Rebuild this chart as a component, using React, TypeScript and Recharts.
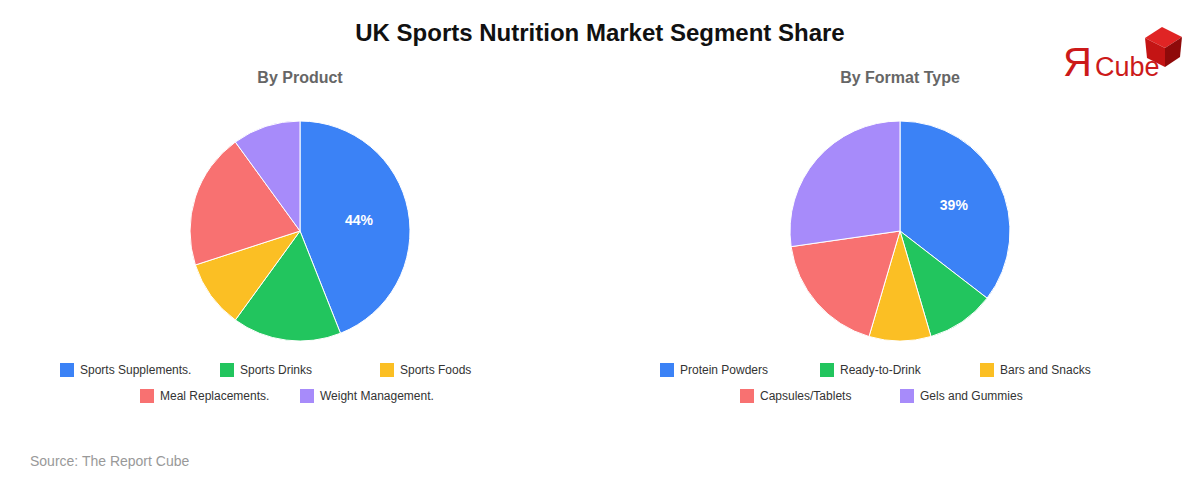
import { Cell, Legend, Pie, PieChart } from 'recharts';

const productNames = ['Sports Supplements.', 'Sports Drinks', 'Sports Foods', 'Meal Replacements.', 'Weight Management.'];
const productValues = [44, 16, 10, 20, 10];

const formatNames = ['Protein Powders', 'Ready-to-Drink', 'Bars and Snacks', 'Capsules/Tablets', 'Gels and Gummies'];
const formatValues = [39, 11, 10, 20, 30];

const sliceColors = ['#3b82f6', '#22c55e', '#fbbf24', '#f87171', '#a78bfa'];

const FONT = 'Arial, "Liberation Sans", Helvetica, sans-serif';
const RADIAN = Math.PI / 180;

// only the lead slice gets a label, showing its raw value
const renderLabel = props => {
  const { cx, cy, midAngle, index, value } = props;
  if (index !== 0) return null;
  const x = cx + 60 * Math.cos(-midAngle * RADIAN);
  const y = cy + 60 * Math.sin(-midAngle * RADIAN);
  return (
    <text
      x={x}
      y={y}
      fill="#fff"
      textAnchor="middle"
      dominantBaseline="central"
      style={{ fontFamily: FONT, fontSize: 14, fontWeight: 700 }}
    >
      {`${value}%`}
    </text>
  );
};

// legend keeps data order: three items on the first row, two on the second
const makeLegend = names => () => {
  const items = names.map((name, i) => ({ name, color: sliceColors[i] }));
  const rows = [items.slice(0, 3), items.slice(3)];
  return (
    <div style={{ fontFamily: FONT, fontSize: 12, color: '#333' }}>
      {rows.map((row, r) => (
        <div key={r} style={{ display: 'flex', justifyContent: 'center', height: 26 }}>
          {row.map(item => (
            <div key={item.name} style={{ width: 160, display: 'flex', alignItems: 'center', height: 16 }}>
              <span style={{ width: 14, height: 14, background: item.color, display: 'inline-block', marginRight: 6 }} />
              <span>{item.name}</span>
            </div>
          ))}
        </div>
      ))}
    </div>
  );
};

function SegmentPie({ title, names, values, left }) {
  const data = names.map((name, i) => ({ name, value: values[i] }));
  return (
    <div style={{ position: 'absolute', left, top: 0, width: 600, height: 480 }}>
      <div
        style={{
          position: 'absolute',
          top: 69,
          width: 600,
          textAlign: 'center',
          fontFamily: FONT,
          fontSize: 16,
          fontWeight: 700,
          color: '#666'
        }}
      >
        {title}
      </div>
      <PieChart width={600} height={480} margin={{ top: 0, right: 0, bottom: 0, left: 0 }}>
        <Pie
          data={data}
          dataKey="value"
          nameKey="name"
          cx={300}
          cy={231}
          outerRadius={110}
          startAngle={90}
          endAngle={-270}
          stroke="#fff"
          strokeWidth={1}
          label={renderLabel}
          labelLine={false}
          isAnimationActive={false}
        >
          {data.map((_, i) => (
            <Cell key={`cell-${i}`} fill={sliceColors[i]} />
          ))}
        </Pie>
        <Legend
          content={makeLegend(names)}
          wrapperStyle={{ position: 'absolute', top: 362, left: 0, width: 600 }}
        />
      </PieChart>
    </div>
  );
}

function Logo() {
  return (
    <svg width={140} height={70} style={{ position: 'absolute', left: 1050, top: 20 }}>
      <text x={13} y={56} fill="#cc1a1a" style={{ fontFamily: FONT, fontSize: 40 }}>
        Я
      </text>
      <text x={45} y={56} fill="#cc1a1a" style={{ fontFamily: FONT, fontSize: 27 }}>
        Cube
      </text>
      <polygon points="112,7 132,17 115,28 95,18" fill="#e02424" />
      <polygon points="95,18 115,28 115,47 97,38" fill="#c41414" />
      <polygon points="115,28 132,17 130,37 115,47" fill="#8f0a0a" />
    </svg>
  );
}

export default function App() {
  return (
    <div style={{ position: 'relative', width: 1200, height: 480, background: '#fff', overflow: 'hidden' }}>
      <style>{'body{margin:0}'}</style>
      <div
        style={{
          position: 'absolute',
          top: 19,
          width: 1200,
          textAlign: 'center',
          fontFamily: FONT,
          fontSize: 24,
          fontWeight: 700,
          color: '#111'
        }}
      >
        UK Sports Nutrition Market Segment Share
      </div>
      <Logo />
      <SegmentPie title="By Product" names={productNames} values={productValues} left={0} />
      <SegmentPie title="By Format Type" names={formatNames} values={formatValues} left={600} />
      <div
        style={{
          position: 'absolute',
          left: 30,
          top: 453,
          fontFamily: FONT,
          fontSize: 14,
          color: '#999'
        }}
      >
        Source: The Report Cube
      </div>
    </div>
  );
}
